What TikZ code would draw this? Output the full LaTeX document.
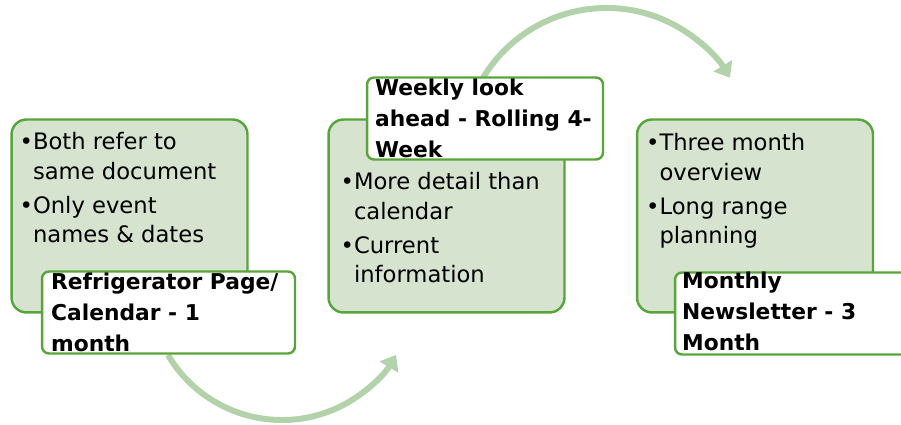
\documentclass[tikz,border=0pt]{standalone}
\usepackage{fontspec}
\setmainfont{DejaVu Sans}
\usetikzlibrary{arrows.meta,positioning,calc}
\definecolor{panelfill}{RGB}{213,227,207}
\definecolor{edgegreen}{RGB}{88,166,58}
\definecolor{flowgreen}{RGB}{178,210,170}

\begin{document}
\begin{tikzpicture}[x=0.02cm,y=0.02cm,line join=round,
		panel/.style={draw=edgegreen,fill=panelfill,line width=1.4pt,rounded corners=0.3cm,
			minimum width=4.72cm,minimum height=3.86cm,inner sep=0},
		tag/.style={draw=edgegreen,fill=white,line width=1.4pt,rounded corners=0.14cm,
			minimum height=1.64cm,inner sep=0},
		bullets/.style={inner sep=0,align=left,font=\fontsize{12.9}{16.8}\selectfont},
		tagtext/.style={inner sep=0,align=left,font=\fontsize{12.4}{17.6}\selectfont\bfseries},
		flow/.style={draw=flowgreen,line width=3.4pt,-{Triangle[length=8pt,width=12pt]}}]
	\useasboundingbox (0,0) rectangle (901,425);
	
	% curved arrows, behind the boxes
	\coordinate (a1) at ($(282,137.5)+(210.6:132.5)$);
	\coordinate (a2) at ($(606.5,273)+(149:144)$);
	\draw[flow] (a1) arc[start angle=210.6,end angle=329.4,radius=132.5];
	\draw[flow] (a2) arc[start angle=149,end angle=31,radius=144];
	
	\foreach \n/\x in {1/129.5,2/446.5,3/755}
		\node[panel] (p\n) at (\x,209) {};
	
	\node[bullets,below right=0.28cm and 0.18cm of p1.north west] (b1)
		{•Both refer to\\\phantom{•}same document\\[2.5pt]•Only event\\\phantom{•}names \& dates};
	\node[bullets,below right=1.08cm and 0.26cm of p2.north west] (b2)
		{•More detail than\\\phantom{•}calendar\\[2.5pt]•Current\\\phantom{•}information};
	\node[bullets,below right=0.3cm and 0.2cm of p3.north west] (b3)
		{•Three month\\\phantom{•}overview\\[2.5pt]•Long range\\\phantom{•}planning};
	
	\node[tag,minimum width=5.06cm] (g1) at (168.5,112.5) {};
	\node[tag,minimum width=4.72cm] (g2) at (485,306.5) {};
	\node[tag,minimum width=5.06cm] (g3) at (801.5,111.5) {};
	
	\node[tagtext,below right=0.04cm and 0.2cm of g1.north west] (l1)
		{Refrigerator Page/\\Calendar - 1\\month};
	\node[tagtext,below right=0.04cm and 0.18cm of g2.north west] (l2)
		{Weekly look\\ahead - Rolling 4-\\Week};
	\node[tagtext,below right=0cm and 0.16cm of g3.north west] (l3)
		{Monthly\\Newsletter - 3\\Month};
\end{tikzpicture}
\end{document}
